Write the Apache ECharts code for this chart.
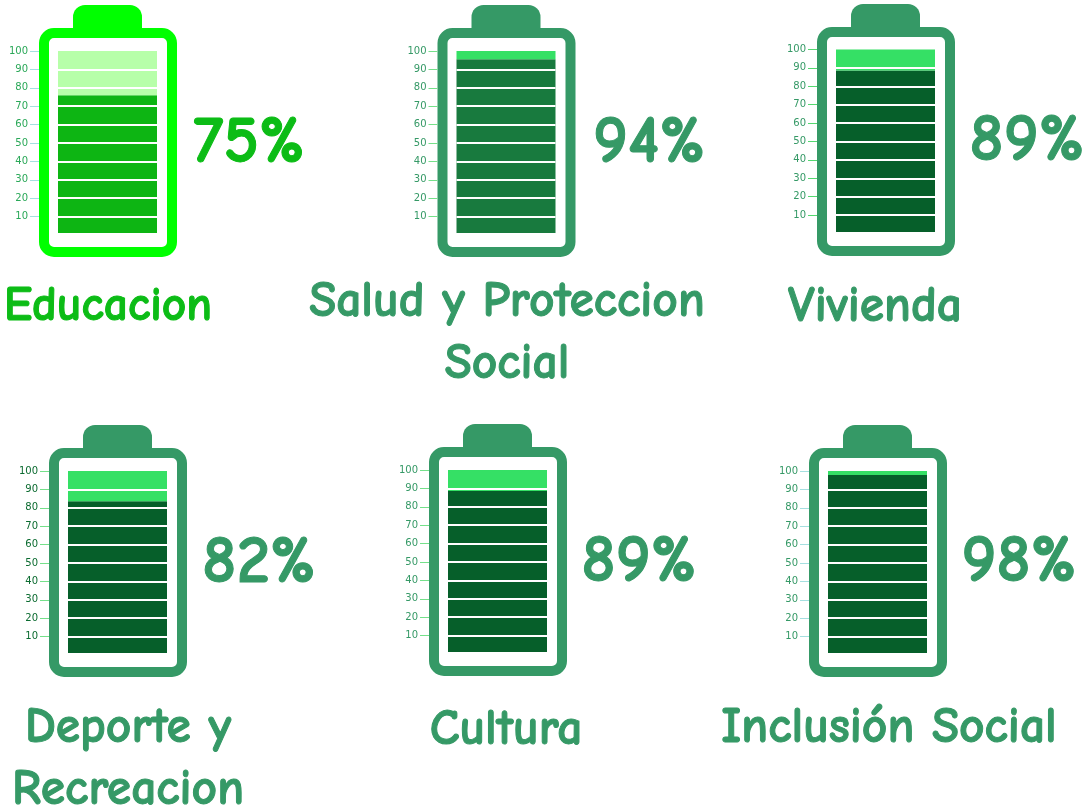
<!DOCTYPE html>
<html><head><meta charset="utf-8">
<style>html,body{margin:0;padding:0;background:#fff}#c{width:1089px;height:810px}</style>
<script src="https://cdn.jsdelivr.net/npm/echarts@6/dist/echarts.min.js"></script>
</head><body><div id="c"></div>
<script>
const categories = ['Educacion','Salud y Proteccion\nSocial','Vivienda','Deporte y\nRecreacion','Cultura','Inclusión Social'];
const percentLabels = [75,94,89,82,89,98];
const fillLevels = [76,95.5,88.6,83.5,88.6,97.8];
const tickLabels = [10,20,30,40,50,60,70,80,90,100];

const FONT = '"Comic Sans MS","Comic Neue","Noto Sans",sans-serif';
const layout = [
 {x:58, y:51, col:'#00ff00', txt:'#0cbc16', fill:'#0db513', empty:'#b7ffa9', lab:'#2aa858', tick:'#a5dfe0', nameX:108, nameY:307, nameSize:47.5, pctX:249, pctY:143},
 {x:456.5,y:51, col:'#359966', txt:'#359966', fill:'#187a3e', empty:'#35e065', lab:'#359966', tick:'#75e08a', nameX:507, nameY:333, nameSize:49.5, pctX:649, pctY:143},
 {x:836,y:49.5,col:'#359966',txt:'#359966', fill:'#065f2a', empty:'#35e065', lab:'#359966', tick:'#55d870', nameX:875, nameY:307, nameSize:49.5, pctX:1027,pctY:141},
 {x:68, y:471,col:'#359966', txt:'#359966', fill:'#065f2a', empty:'#35e065', lab:'#0b6b30', tick:'#75e08a', nameX:128, nameY:759, nameSize:49.5, pctX:259, pctY:563},
 {x:448,y:470,col:'#359966', txt:'#359966', fill:'#065f2a', empty:'#35e065', lab:'#359966', tick:'#75e08a', nameX:506, nameY:730, nameSize:49.5, pctX:639, pctY:562},
 {x:828,y:471,col:'#359966', txt:'#359966', fill:'#065f2a', empty:'#35e065', lab:'#359966', tick:'#a5dfe0', nameX:889, nameY:728, nameSize:49.5, pctX:1019,pctY:562}
];

const grid=[],xAxis=[],yAxis=[],series=[],graphic=[];
categories.forEach((name,i)=>{
  const L=layout[i];
  grid.push({left:L.x,top:L.y,width:99,height:184});
  xAxis.push({gridIndex:i,type:'category',data:[name],z:5,
    axisLine:{show:true,lineStyle:{color:'#fff',width:4}},axisTick:{show:false},axisLabel:{show:false},splitLine:{show:false}});
  yAxis.push({gridIndex:i,type:'value',min:0,max:100,interval:10,offset:19,z:5,
    axisLine:{show:false},
    axisTick:{show:true,length:9,lineStyle:{color:L.tick,width:1},customValues:tickLabels},
    axisLabel:{show:true,margin:11,fontSize:10,color:L.lab,fontFamily:'"DejaVu Sans"',padding:[2,0,0,0],customValues:tickLabels},
    splitLine:{show:true,showMinLine:true,showMaxLine:false,lineStyle:{color:'#fff',width:2,opacity:1}}});
  series.push({type:'bar',name:'nivel',xAxisIndex:i,yAxisIndex:i,stack:'b'+i,barWidth:'100%',silent:true,z:2,
    itemStyle:{color:L.fill},data:[fillLevels[i]]});
  series.push({type:'bar',name:'resto',xAxisIndex:i,yAxisIndex:i,stack:'b'+i,barWidth:'100%',silent:true,z:2,
    itemStyle:{color:L.empty},data:[100-fillLevels[i]]});
  const ox=L.x-19, oy=Math.round(L.y)-23;
  graphic.push({type:'rect',silent:true,z:1,shape:{x:ox+5,y:oy+5,width:128,height:219,r:10},style:{fill:'transparent',stroke:L.col,lineWidth:10}});
  graphic.push({type:'rect',silent:true,z:1,shape:{x:ox+34,y:oy-23,width:69,height:27,r:[12,12,0,0]},style:{fill:L.col}});
  graphic.push({type:'text',silent:true,z:10,x:L.nameX,y:L.nameY,style:{text:name,fill:L.txt,stroke:L.txt,lineWidth:1,font:'bold '+L.nameSize+'px '+FONT,lineHeight:62,align:'center',verticalAlign:'middle'}});
  graphic.push({type:'text',silent:true,z:10,x:L.pctX,y:L.pctY,style:{text:percentLabels[i]+'%',fill:L.txt,stroke:L.txt,lineWidth:1,font:'bold 67px '+FONT,align:'center',verticalAlign:'middle'}});
});
const chart=echarts.init(document.getElementById('c'),null,{renderer:'canvas'});
chart.setOption({animation:false,backgroundColor:'#fff',grid,xAxis,yAxis,series,graphic});
</script></body></html>
